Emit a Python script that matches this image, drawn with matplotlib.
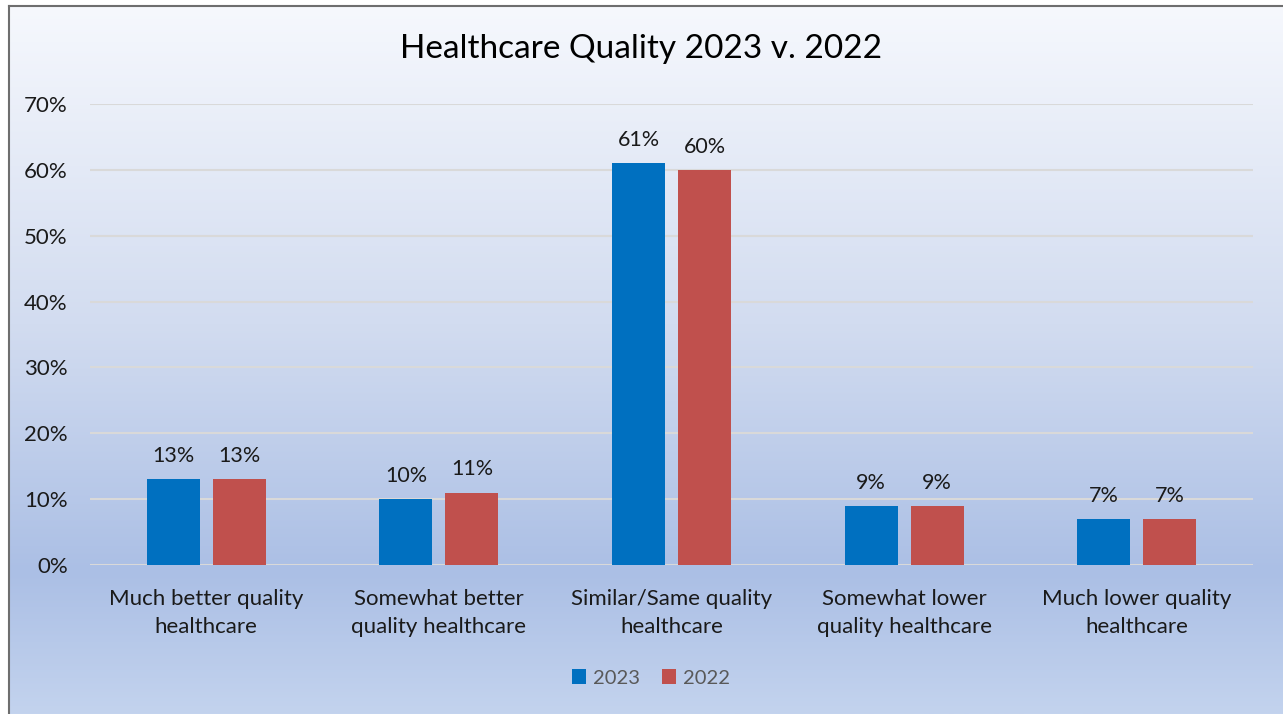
import numpy as np
import matplotlib.pyplot as plt
from matplotlib.colors import LinearSegmentedColormap

plt.rcParams['font.family'] = ['Lato', 'DejaVu Sans']

categories = ["Much better quality\nhealthcare", "Somewhat better\nquality healthcare",
              "Similar/Same quality\nhealthcare", "Somewhat lower\nquality healthcare",
              "Much lower quality\nhealthcare"]
vals_2023 = [13, 10, 61, 9, 7]
vals_2022 = [13, 11, 60, 9, 7]
series_names = ["2023", "2022"]
colors = ["#0070c0", "#c0504d"]

W, H = 1283, 714
fig = plt.figure(figsize=(W / 100, H / 100), dpi=100)

# gradient backdrop with a grey frame on the left/top edges
bg = fig.add_axes([9 / W, 0, 1 - 9 / W, (H - 6) / H])
grad = LinearSegmentedColormap.from_list(
    "bg", [(0.0, "#c3d3ee"), (0.2, "#abbfe5"), (0.55, "#d2dcf0"), (1.0, "#f6f8fd")])
bg.imshow(np.linspace(0, 1, 256).reshape(-1, 1), aspect="auto", cmap=grad,
          origin="lower", extent=[0, 1, 0, 1])
bg.set_xlim(0, 1)
bg.set_ylim(0, 1)
bg.set_xticks([])
bg.set_yticks([])
for s in ["right", "bottom"]:
    bg.spines[s].set_visible(False)
for s in ["left", "top"]:
    bg.spines[s].set_color("#6e6e6e")
    bg.spines[s].set_linewidth(1.5)

left, right = 90 / W, 1253 / W
bottom, top = (H - 565) / H, (H - 104) / H
ax = fig.add_axes([left, bottom, right - left, top - bottom])
ax.patch.set_alpha(0)

x = np.arange(len(categories))
bw = 0.228
off = 0.142
ax.bar(x - off, vals_2023, bw, color=colors[0], label=series_names[0], zorder=3)
ax.bar(x + off, vals_2022, bw, color=colors[1], label=series_names[1], zorder=3)

for xi, v in zip(x - off, vals_2023):
    ax.text(xi, v + 2.0, f"{v}%", ha="center", va="bottom", fontsize=15.5, color="#1a1a1a")
for xi, v in zip(x + off, vals_2022):
    ax.text(xi, v + 2.0, f"{v}%", ha="center", va="bottom", fontsize=15.5, color="#1a1a1a")

ax.set_xlim(-0.5, len(categories) - 0.5)
ax.set_ylim(0, 70)
ax.set_yticks(range(0, 71, 10))
ax.set_yticklabels([f"{t}%" for t in range(0, 71, 10)], fontsize=16, color="#1a1a1a")
ax.set_xticks(x)
ax.set_xticklabels(categories, fontsize=16, color="#1a1a1a", linespacing=1.55)
ax.tick_params(axis="both", length=0)
ax.tick_params(axis="y", pad=16)
ax.tick_params(axis="x", pad=17)
ax.grid(axis="y", color="#d9d9d9", linewidth=1.5, zorder=0)
for s in ax.spines.values():
    s.set_visible(False)

fig.text(0.5, (H - 49) / H, "Healthcare Quality 2023 v. 2022", ha="center", va="center",
         fontsize=24, color="#000000")

fig.legend(loc="center", bbox_to_anchor=(651 / W, (H - 678) / H), ncol=2, frameon=False,
           fontsize=14.5, handlelength=0.7, handleheight=0.7, handletextpad=0.35,
           columnspacing=1.1, labelcolor="#595959")

fig.savefig("out.png", dpi=100)
